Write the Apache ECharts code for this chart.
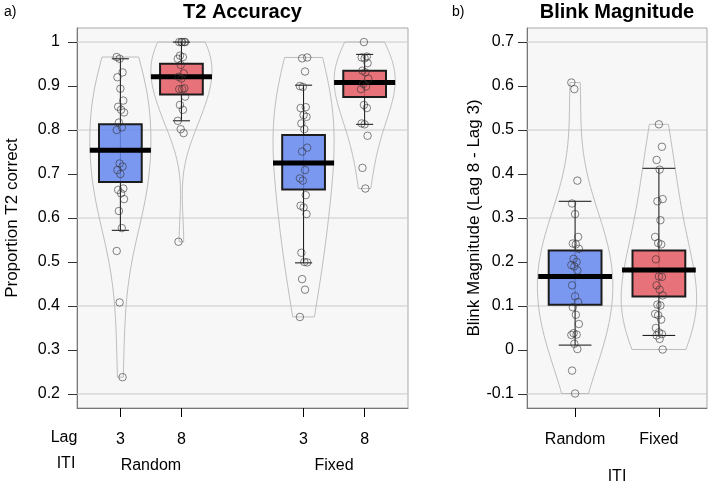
<!DOCTYPE html>
<html><head><meta charset="utf-8">
<script src="https://cdn.jsdelivr.net/npm/echarts@6/dist/echarts.min.js"></script>
<style>html,body{margin:0;padding:0;background:#fff}#c{width:710px;height:485px}</style>
</head><body><div id="c"></div><script>
// ---------- data ----------
const lagCats = ['3', '8', '3', '8'];
const itiCats = ['Random', 'Fixed'];

const accRandomLag3 = [0.966, 0.962, 0.931, 0.920, 0.894, 0.867, 0.853, 0.846, 0.840, 0.817, 0.806, 0.800,
  0.724, 0.717, 0.709, 0.700, 0.667, 0.664, 0.656, 0.643, 0.616, 0.577, 0.525, 0.408, 0.238];
const accRandomLag8 = [1.0, 1.0, 1.0, 1.0, 1.0, 0.969, 0.966, 0.962, 0.948, 0.929, 0.921, 0.917, 0.895,
  0.893, 0.893, 0.876, 0.857, 0.846, 0.821, 0.802, 0.793, 0.546];
const accFixedLag3 = [0.965, 0.963, 0.933, 0.900, 0.898, 0.852, 0.850, 0.834, 0.830, 0.815, 0.802, 0.760,
  0.751, 0.709, 0.690, 0.685, 0.652, 0.628, 0.624, 0.609, 0.521, 0.500, 0.499, 0.461, 0.437, 0.375];
const accFixedLag8 = [1.0, 0.967, 0.965, 0.963, 0.952, 0.935, 0.931, 0.917, 0.905, 0.899, 0.893, 0.857,
  0.850, 0.815, 0.813, 0.787, 0.714, 0.667];

const accMean = [0.754, 0.921, 0.725, 0.908];
const accBoxLow = [0.682, 0.881, 0.665, 0.875];
const accBoxHigh = [0.813, 0.951, 0.789, 0.935];
const accWhiskLow = [0.572, 0.821, 0.498, 0.813];
const accWhiskHigh = [0.962, 1.0, 0.902, 0.972];

const bmRandom = [0.608, 0.593, 0.385, 0.333, 0.309, 0.257, 0.242, 0.240, 0.230, 0.207, 0.200, 0.193, 0.190,
  0.181, 0.147, 0.122, 0.109, 0.097, 0.080, 0.059, 0.038, 0.035, 0.034, 0.014, 0.002, -0.047, -0.099];
const bmFixed = [0.513, 0.462, 0.432, 0.410, 0.343, 0.338, 0.295, 0.257, 0.243, 0.240, 0.206, 0.167, 0.166,
  0.147, 0.137, 0.124, 0.103, 0.101, 0.082, 0.079, 0.069, 0.050, 0.040, 0.036, 0.033, 0.025, 0.001];

const bmMean = [0.167, 0.1815];
const bmBoxLow = [0.103, 0.1215];
const bmBoxHigh = [0.226, 0.226];
const bmWhiskLow = [0.011, 0.033];
const bmWhiskHigh = [0.338, 0.413];

const accTicks = [0.2, 0.3, 0.4, 0.5, 0.6, 0.7, 0.8, 0.9, 1.0];
const accTickLabels = ['0.2', '0.3', '0.4', '0.5', '0.6', '0.7', '0.8', '0.9', '1'];
const accGridVals = [0.2, 0.4, 0.6, 0.8, 1.0];
const bmTicks = [-0.1, 0, 0.1, 0.2, 0.3, 0.4, 0.5, 0.6, 0.7];
const bmTickLabels = ['-0.1', '0', '0.1', '0.2', '0.3', '0.4', '0.5', '0.6', '0.7'];
const bmGridVals = [-0.1, 0.1, 0.3, 0.5, 0.7];

// ---------- helpers ----------
const FONT = "'Liberation Sans', Arial, sans-serif";
const BLUE = 'rgba(102,136,240,0.86)';
const RED = 'rgba(228,92,100,0.86)';
const BW_ADJUST = 1.6;

function nrd0(x) {
  const n = x.length, s = [...x].sort((a, b) => a - b);
  const mean = x.reduce((a, b) => a + b, 0) / n;
  const sd = Math.sqrt(x.reduce((a, b) => a + (b - mean) * (b - mean), 0) / (n - 1));
  const q = p => { const h = (n - 1) * p, lo = Math.floor(h), hi = Math.min(lo + 1, n - 1); return s[lo] + (h - lo) * (s[hi] - s[lo]); };
  let lo = Math.min(sd, (q(0.75) - q(0.25)) / 1.34);
  if (!lo) lo = sd || 1;
  return 0.9 * lo * Math.pow(n, -0.2);
}
function density(x, steps) {
  const bw = nrd0(x) * BW_ADJUST, mn = Math.min(...x), mx = Math.max(...x), out = [];
  for (let i = 0; i <= steps; i++) {
    const y = mn + (mx - mn) * i / steps;
    let d = 0;
    for (const v of x) { const z = (y - v) / bw; d += Math.exp(-0.5 * z * z); }
    out.push([y, d]);
  }
  const m = Math.max(...out.map(o => o[1]));
  return out.map(o => [o[0], o[1] / m]);
}

const panels = [
  { grid: 0, pos: [1, 2, 4, 5], vals: [accRandomLag3, accRandomLag8, accFixedLag3, accFixedLag8],
    colors: [BLUE, RED, BLUE, RED], mean: accMean, bLo: accBoxLow, bHi: accBoxHigh, wLo: accWhiskLow, wHi: accWhiskHigh,
    gridVals: accGridVals, xMin: 0.29, half: 0.5, boxW: 0.70, barW: 1.0, capW: 0.28, jit: 0.06 },
  { grid: 1, pos: [1, 2], vals: [bmRandom, bmFixed],
    colors: [BLUE, RED], mean: bmMean, bLo: bmBoxLow, bHi: bmBoxHigh, wLo: bmWhiskLow, wHi: bmWhiskHigh,
    gridVals: bmGridVals, xMin: 0.426, half: 0.45, boxW: 0.63, barW: 0.88, capW: 0.39, jit: 0.045 }
];

const series = [];
panels.forEach(P => {
  const ax = { xAxisIndex: P.grid === 0 ? 0 : 2, yAxisIndex: P.grid };
  const dens = P.vals.map(v => density(v, 80));
  series.push(Object.assign({
    type: 'custom', silent: true, data: P.gridVals.map(v => [P.xMin, v]),
    renderItem: (params, api) => {
      const y = api.coord([api.value(0), api.value(1)])[1], cs = params.coordSys;
      return { type: 'line', shape: { x1: cs.x, y1: y, x2: cs.x + cs.width, y2: y }, style: { stroke: '#cacaca', lineWidth: 1 } };
    }
  }, ax));
  series.push(Object.assign({
    type: 'custom', silent: true, data: P.pos.map((p, i) => [p, P.mean[i]]),
    renderItem: (params, api) => {
      const i = params.dataIndex, p = api.value(0), d = dens[i], pts = [];
      d.forEach(([y, w]) => pts.push(api.coord([p - w * P.half, y])));
      for (let k = d.length - 1; k >= 0; k--) pts.push(api.coord([p + d[k][1] * P.half, d[k][0]]));
      return { type: 'polygon', shape: { points: pts }, style: { fill: 'none', stroke: '#bdbdbd', lineWidth: 1 } };
    }
  }, ax));
  const pts = [];
  P.vals.forEach((arr, g) => arr.forEach((v, i) => {
    const j = ((((i * 37 + g * 5) % 11) / 10) - 0.5) * 2 * P.jit;
    pts.push([P.pos[g] + j, v]);
  }));
  series.push(Object.assign({
    type: 'scatter', silent: true, data: pts, symbol: 'circle', symbolSize: 7.5,
    itemStyle: { color: 'rgba(255,255,255,0)', borderColor: 'rgba(50,50,50,0.75)', borderWidth: 1 }
  }, ax));
  series.push(Object.assign({
    type: 'custom', silent: true, data: P.pos.map((p, i) => [p, P.wLo[i], P.wHi[i]]),
    renderItem: (params, api) => {
      const p = api.value(0), lo = api.value(1), hi = api.value(2);
      const a = api.coord([p, lo]), b = api.coord([p, hi]);
      const l1 = api.coord([p - P.capW / 2, lo]), r1 = api.coord([p + P.capW / 2, lo]);
      const l2 = api.coord([p - P.capW / 2, hi]), r2 = api.coord([p + P.capW / 2, hi]);
      const st = { stroke: '#111', lineWidth: 1 };
      return { type: 'group', children: [
        { type: 'line', shape: { x1: a[0], y1: a[1], x2: b[0], y2: b[1] }, style: st },
        { type: 'line', shape: { x1: l1[0], y1: l1[1], x2: r1[0], y2: r1[1] }, style: st },
        { type: 'line', shape: { x1: l2[0], y1: l2[1], x2: r2[0], y2: r2[1] }, style: st }
      ] };
    }
  }, ax));
  series.push(Object.assign({
    type: 'custom', silent: true, data: P.pos.map((p, i) => [p, P.bLo[i], P.bHi[i]]),
    renderItem: (params, api) => {
      const p = api.value(0), tl = api.coord([p - P.boxW / 2, api.value(2)]), br = api.coord([p + P.boxW / 2, api.value(1)]);
      return { type: 'rect', shape: { x: tl[0], y: tl[1], width: br[0] - tl[0], height: br[1] - tl[1] },
        style: { fill: P.colors[params.dataIndex], stroke: '#1c1c1c', lineWidth: 2 } };
    }
  }, ax));
  series.push(Object.assign({
    type: 'custom', silent: true, data: P.pos.map((p, i) => [p, P.mean[i]]),
    renderItem: (params, api) => {
      const p = api.value(0), l = api.coord([p - P.barW / 2, api.value(1)]), r = api.coord([p + P.barW / 2, api.value(1)]);
      return { type: 'line', shape: { x1: l[0], y1: l[1], x2: r[0], y2: r[1] }, style: { stroke: '#000', lineWidth: 5 } };
    }
  }, ax));
});

const lbl = { color: '#000', fontFamily: FONT, fontSize: 16 };
const nameLbl = { color: '#000', fontFamily: FONT, fontSize: 17 };
const gridStyle = { show: true, backgroundColor: '#f7f7f7', borderColor: '#a8a8a8', borderWidth: 1, containLabel: false, outerBoundsMode: 'none' };

const option = {
  animation: false,
  grid: [
    Object.assign({ left: 77, top: 28, width: 331, height: 380 }, gridStyle),
    Object.assign({ left: 527, top: 28, width: 180, height: 380 }, gridStyle)
  ],
  xAxis: [
    { gridIndex: 0, type: 'value', min: 0.29, max: 5.71, splitLine: { show: false },
      axisLine: { show: true, onZero: false, lineStyle: { color: '#777' } },
      axisTick: { show: true, customValues: [1, 2, 4, 5], length: 9, lineStyle: { color: '#000' } },
      axisLabel: Object.assign({ customValues: [1, 2, 4, 5], margin: 24, formatter: v => lagCats[[1, 2, 4, 5].indexOf(v)] }, lbl) },
    { gridIndex: 0, type: 'value', min: 0.29, max: 5.71, position: 'bottom', splitLine: { show: false },
      axisLine: { show: false, onZero: false }, axisTick: { show: false },
      axisLabel: Object.assign({ customValues: [1.5, 4.5], margin: 50, formatter: v => itiCats[[1.5, 4.5].indexOf(v)] }, lbl) },
    { gridIndex: 1, type: 'value', min: 0.426, max: 2.574, splitLine: { show: false },
      axisLine: { show: true, onZero: false, lineStyle: { color: '#777' } },
      axisTick: { show: true, customValues: [1, 2], length: 9, lineStyle: { color: '#000' } },
      axisLabel: Object.assign({ customValues: [1, 2], margin: 24, formatter: v => itiCats[[1, 2].indexOf(v)] }, lbl),
      name: 'ITI', nameLocation: 'middle', nameGap: 61, nameTextStyle: lbl }
  ],
  yAxis: [
    { gridIndex: 0, type: 'value', min: 0.168, max: 1.032, splitLine: { show: false },
      axisLine: { show: true, onZero: false, lineStyle: { color: '#777' } },
      axisTick: { show: true, customValues: accTicks, length: 9, lineStyle: { color: '#333' } },
      axisLabel: Object.assign({ customValues: accTicks, margin: 17, formatter: v => accTickLabels[accTicks.findIndex(t => Math.abs(t - v) < 1e-9)] }, lbl),
      name: 'Proportion T2 correct', nameLocation: 'middle', nameGap: 56, nameTextStyle: nameLbl },
    { gridIndex: 1, type: 'value', min: -0.132, max: 0.732, splitLine: { show: false },
      axisLine: { show: true, onZero: false, lineStyle: { color: '#777' } },
      axisTick: { show: true, customValues: bmTicks, length: 9, lineStyle: { color: '#333' } },
      axisLabel: Object.assign({ customValues: bmTicks, margin: 13, formatter: v => bmTickLabels[bmTicks.findIndex(t => Math.abs(t - v) < 1e-9)] }, lbl),
      name: 'Blink Magnitude (Lag 8 - Lag 3)', nameLocation: 'middle', nameGap: 34, nameTextStyle: nameLbl }
  ],
  graphic: [
    { type: 'text', x: 4, y: 12, style: { text: 'a)', font: '14px ' + FONT, fill: '#000', verticalAlign: 'middle' } },
    { type: 'text', x: 242.5, y: 12, style: { text: 'T2 Accuracy', font: 'bold 20px ' + FONT, fill: '#000', align: 'center', verticalAlign: 'middle' } },
    { type: 'text', x: 452, y: 12, style: { text: 'b)', font: '14px ' + FONT, fill: '#000', verticalAlign: 'middle' } },
    { type: 'text', x: 617, y: 12, style: { text: 'Blink Magnitude', font: 'bold 20px ' + FONT, fill: '#000', align: 'center', verticalAlign: 'middle' } },
    { type: 'text', x: 64, y: 438, style: { text: 'Lag', font: '16px ' + FONT, fill: '#000', align: 'center', verticalAlign: 'middle' } },
    { type: 'text', x: 66, y: 464, style: { text: 'ITI', font: '16px ' + FONT, fill: '#000', align: 'center', verticalAlign: 'middle' } }
  ],
  series: series
};
const chart = echarts.init(document.getElementById('c'));
chart.setOption(option);
</script></body></html>
